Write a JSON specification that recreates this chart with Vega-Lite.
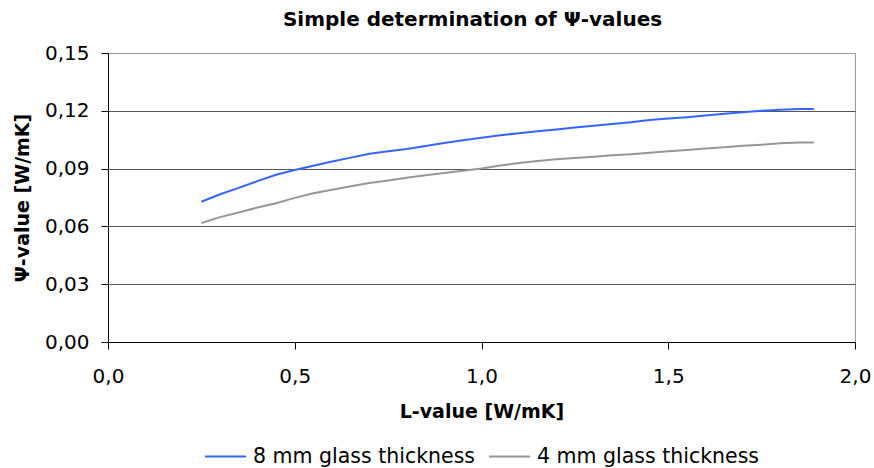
{
  "$schema": "https://vega.github.io/schema/vega-lite/v6.json",
  "width": 747,
  "height": 289,
  "autosize": "none",
  "padding": {"left": 108, "top": 53, "right": 19, "bottom": 126},
  "background": "white",
  "title": {
    "text": "Simple determination of Ψ-values",
    "font": "DejaVu Sans",
    "fontSize": 20,
    "fontWeight": "bold",
    "color": "black",
    "anchor": "middle",
    "baseline": "bottom",
    "offset": -7,
    "dx": -9
  },
  "data": {
    "values": [
      {"L": 0.25, "psi": 0.0728, "series": "8 mm glass thickness"},
      {"L": 0.30, "psi": 0.0767, "series": "8 mm glass thickness"},
      {"L": 0.35, "psi": 0.0800, "series": "8 mm glass thickness"},
      {"L": 0.40, "psi": 0.0835, "series": "8 mm glass thickness"},
      {"L": 0.45, "psi": 0.0868, "series": "8 mm glass thickness"},
      {"L": 0.50, "psi": 0.0893, "series": "8 mm glass thickness"},
      {"L": 0.55, "psi": 0.0915, "series": "8 mm glass thickness"},
      {"L": 0.60, "psi": 0.0937, "series": "8 mm glass thickness"},
      {"L": 0.65, "psi": 0.0957, "series": "8 mm glass thickness"},
      {"L": 0.70, "psi": 0.0977, "series": "8 mm glass thickness"},
      {"L": 0.75, "psi": 0.0990, "series": "8 mm glass thickness"},
      {"L": 0.80, "psi": 0.1002, "series": "8 mm glass thickness"},
      {"L": 0.85, "psi": 0.1017, "series": "8 mm glass thickness"},
      {"L": 0.90, "psi": 0.1033, "series": "8 mm glass thickness"},
      {"L": 0.95, "psi": 0.1047, "series": "8 mm glass thickness"},
      {"L": 1.00, "psi": 0.1060, "series": "8 mm glass thickness"},
      {"L": 1.05, "psi": 0.1073, "series": "8 mm glass thickness"},
      {"L": 1.10, "psi": 0.1084, "series": "8 mm glass thickness"},
      {"L": 1.15, "psi": 0.1094, "series": "8 mm glass thickness"},
      {"L": 1.20, "psi": 0.1103, "series": "8 mm glass thickness"},
      {"L": 1.25, "psi": 0.1113, "series": "8 mm glass thickness"},
      {"L": 1.30, "psi": 0.1122, "series": "8 mm glass thickness"},
      {"L": 1.35, "psi": 0.1131, "series": "8 mm glass thickness"},
      {"L": 1.40, "psi": 0.1141, "series": "8 mm glass thickness"},
      {"L": 1.45, "psi": 0.1152, "series": "8 mm glass thickness"},
      {"L": 1.50, "psi": 0.1160, "series": "8 mm glass thickness"},
      {"L": 1.55, "psi": 0.1167, "series": "8 mm glass thickness"},
      {"L": 1.60, "psi": 0.1175, "series": "8 mm glass thickness"},
      {"L": 1.65, "psi": 0.1185, "series": "8 mm glass thickness"},
      {"L": 1.70, "psi": 0.1192, "series": "8 mm glass thickness"},
      {"L": 1.75, "psi": 0.1200, "series": "8 mm glass thickness"},
      {"L": 1.80, "psi": 0.1205, "series": "8 mm glass thickness"},
      {"L": 1.85, "psi": 0.1209, "series": "8 mm glass thickness"},
      {"L": 1.89, "psi": 0.1209, "series": "8 mm glass thickness"},
      {"L": 0.25, "psi": 0.0617, "series": "4 mm glass thickness"},
      {"L": 0.30, "psi": 0.0648, "series": "4 mm glass thickness"},
      {"L": 0.35, "psi": 0.0672, "series": "4 mm glass thickness"},
      {"L": 0.40, "psi": 0.0698, "series": "4 mm glass thickness"},
      {"L": 0.45, "psi": 0.0720, "series": "4 mm glass thickness"},
      {"L": 0.50, "psi": 0.0748, "series": "4 mm glass thickness"},
      {"L": 0.55, "psi": 0.0772, "series": "4 mm glass thickness"},
      {"L": 0.60, "psi": 0.0790, "series": "4 mm glass thickness"},
      {"L": 0.65, "psi": 0.0808, "series": "4 mm glass thickness"},
      {"L": 0.70, "psi": 0.0825, "series": "4 mm glass thickness"},
      {"L": 0.75, "psi": 0.0838, "series": "4 mm glass thickness"},
      {"L": 0.80, "psi": 0.0852, "series": "4 mm glass thickness"},
      {"L": 0.85, "psi": 0.0866, "series": "4 mm glass thickness"},
      {"L": 0.90, "psi": 0.0877, "series": "4 mm glass thickness"},
      {"L": 0.95, "psi": 0.0889, "series": "4 mm glass thickness"},
      {"L": 1.00, "psi": 0.0901, "series": "4 mm glass thickness"},
      {"L": 1.05, "psi": 0.0916, "series": "4 mm glass thickness"},
      {"L": 1.10, "psi": 0.0929, "series": "4 mm glass thickness"},
      {"L": 1.15, "psi": 0.0940, "series": "4 mm glass thickness"},
      {"L": 1.20, "psi": 0.0948, "series": "4 mm glass thickness"},
      {"L": 1.25, "psi": 0.0955, "series": "4 mm glass thickness"},
      {"L": 1.30, "psi": 0.0962, "series": "4 mm glass thickness"},
      {"L": 1.35, "psi": 0.0969, "series": "4 mm glass thickness"},
      {"L": 1.40, "psi": 0.0975, "series": "4 mm glass thickness"},
      {"L": 1.45, "psi": 0.0982, "series": "4 mm glass thickness"},
      {"L": 1.50, "psi": 0.0990, "series": "4 mm glass thickness"},
      {"L": 1.55, "psi": 0.0997, "series": "4 mm glass thickness"},
      {"L": 1.60, "psi": 0.1004, "series": "4 mm glass thickness"},
      {"L": 1.65, "psi": 0.1011, "series": "4 mm glass thickness"},
      {"L": 1.70, "psi": 0.1018, "series": "4 mm glass thickness"},
      {"L": 1.75, "psi": 0.1024, "series": "4 mm glass thickness"},
      {"L": 1.80, "psi": 0.1031, "series": "4 mm glass thickness"},
      {"L": 1.85, "psi": 0.1035, "series": "4 mm glass thickness"},
      {"L": 1.89, "psi": 0.1035, "series": "4 mm glass thickness"}
    ]
  },
  "mark": {"type": "line", "strokeWidth": 2, "interpolate": "linear"},
  "encoding": {
    "x": {
      "field": "L",
      "type": "quantitative",
      "scale": {"domain": [0, 2], "nice": false, "zero": false},
      "axis": {
        "title": "L-value [W/mK]",
        "values": [0, 0.5, 1, 1.5, 2],
        "labelExpr": "replace(format(datum.value, '.1f'), '.', ',')",
        "grid": false,
        "domainColor": "black",
        "tickColor": "black",
        "tickSize": 7,
        "labelPadding": 17,
        "labelFont": "DejaVu Sans",
        "labelFontSize": 20,
        "labelColor": "black",
        "labelFlush": false,
        "titleFont": "DejaVu Sans",
        "titleFontSize": 19,
        "titleFontWeight": "bold",
        "titleColor": "black",
        "titlePadding": 16
      }
    },
    "y": {
      "field": "psi",
      "type": "quantitative",
      "scale": {"domain": [0, 0.15], "nice": false, "zero": true},
      "axis": {
        "title": "Ψ-value [W/mK]",
        "values": [0, 0.03, 0.06, 0.09, 0.12, 0.15],
        "labelExpr": "replace(format(datum.value, '.2f'), '.', ',')",
        "grid": true,
        "gridColor": {"condition": {"test": "datum.value > 0.149", "value": "#999999"}, "value": "#555555"},
        "gridWidth": 1,
        "domainColor": "black",
        "tickColor": "black",
        "tickSize": 7,
        "labelPadding": 12,
        "labelFont": "DejaVu Sans",
        "labelFontSize": 20,
        "labelColor": "black",
        "labelFlush": false,
        "titleFont": "DejaVu Sans",
        "titleFontSize": 19,
        "titleFontWeight": "bold",
        "titleColor": "black",
        "titlePadding": 12
      }
    },
    "color": {
      "field": "series",
      "type": "nominal",
      "scale": {
        "domain": ["8 mm glass thickness", "4 mm glass thickness"],
        "range": ["#3366ff", "#969696"]
      },
      "legend": {
        "title": null,
        "orient": "none",
        "direction": "horizontal",
        "legendX": 96,
        "legendY": 382,
        "symbolType": "stroke",
        "symbolSize": 1681,
        "symbolStrokeWidth": 2,
        "labelFont": "DejaVu Sans",
        "labelFontSize": 20.5,
        "labelColor": "black",
        "labelLimit": 400,
        "labelOffset": 6,
        "columnPadding": 10,
        "padding": 0
      }
    }
  },
  "config": {
    "view": {"stroke": "#999999", "strokeWidth": 1}
  }
}
